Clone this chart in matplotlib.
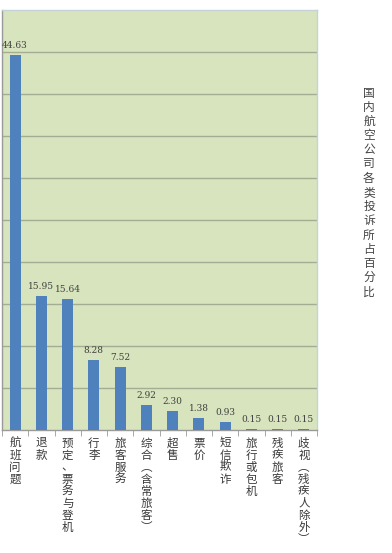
import matplotlib
matplotlib.use("Agg")
import matplotlib.pyplot as plt
import matplotlib.transforms as mtransforms

plt.rcParams['font.family'] = ['Noto Sans CJK SC', 'DejaVu Sans']

categories = ["航班问题", "退款", "预定、票务与登机", "行李", "旅客服务",
              "综合︵含常旅客︶", "超售", "票价", "短信欺诈", "旅行或包机",
              "残疾旅客", "歧视︵残疾人除外︶"]
values = [44.63, 15.95, 15.64, 8.28, 7.52, 2.92, 2.30, 1.38, 0.93, 0.15, 0.15, 0.15]
value_labels = ["44.63", "15.95", "15.64", "8.28", "7.52", "2.92", "2.30",
                "1.38", "0.93", "0.15", "0.15", "0.15"]
title = "国内航空公司各类投诉所占百分比"

W, H = 392, 553
DPI = 100
fig = plt.figure(figsize=(W / DPI, H / DPI), dpi=DPI)
ax = fig.add_axes([2 / W, 1 - 430 / H, 315 / W, 420 / H])
ax.set_facecolor("#d7e4bd")

n = len(categories)
x = list(range(n))
ax.bar(x, values, width=0.42, color="#4f81bd", zorder=3)
ax.set_xlim(-0.5, n - 0.5)
ax.set_ylim(0, 50)

ax.set_yticks([5 * k for k in range(1, 10)])
ax.yaxis.grid(True, color="#a3ad93", linewidth=1.0, zorder=1)
ax.tick_params(axis='y', length=0, labelleft=False)

for s in ["left", "bottom"]:
    ax.spines[s].set_color("#9a9a9a")
    ax.spines[s].set_linewidth(1.0)
for s in ["top", "right"]:
    ax.spines[s].set_color("#c5d3d8")
    ax.spines[s].set_linewidth(1.0)

ax.set_xticks([i + 0.5 for i in range(-1, n)], minor=True)
ax.tick_params(axis='x', which='minor', length=4, color="#9a9a9a", direction='out')
ax.set_xticks(x)
ax.set_xticklabels([])
ax.tick_params(axis='x', which='major', length=0)

# vertical (stacked) category labels, one character per row
base = mtransforms.blended_transform_factory(ax.transData, ax.transAxes)
cat_first = 13 / DPI   # inches below axis to first char centre
cat_step = 12 / DPI    # inches between characters
for i, c in enumerate(categories):
    for k, ch in enumerate(c):
        tr = base + mtransforms.ScaledTranslation(0, -(cat_first + k * cat_step),
                                                  fig.dpi_scale_trans)
        ax.text(i, 0, ch, transform=tr, ha='center', va='center',
                fontsize=8.3, color="#3a3a3a")

for i, (v, lab) in enumerate(zip(values, value_labels)):
    ax.text(i, v + 0.6, lab, ha='center', va='bottom', fontsize=6.5,
            color="#404040", family=['DejaVu Serif'], zorder=4)

# vertical title on the right
t_step = 14.2 / DPI
for k, ch in enumerate(title):
    tr = fig.transFigure + mtransforms.ScaledTranslation(0, -k * t_step, fig.dpi_scale_trans)
    fig.text(369 / W, 1 - 93 / H, ch, transform=tr, ha='center', va='center',
             fontsize=8.5, color="#444444")

fig.savefig("out.png", dpi=DPI)
